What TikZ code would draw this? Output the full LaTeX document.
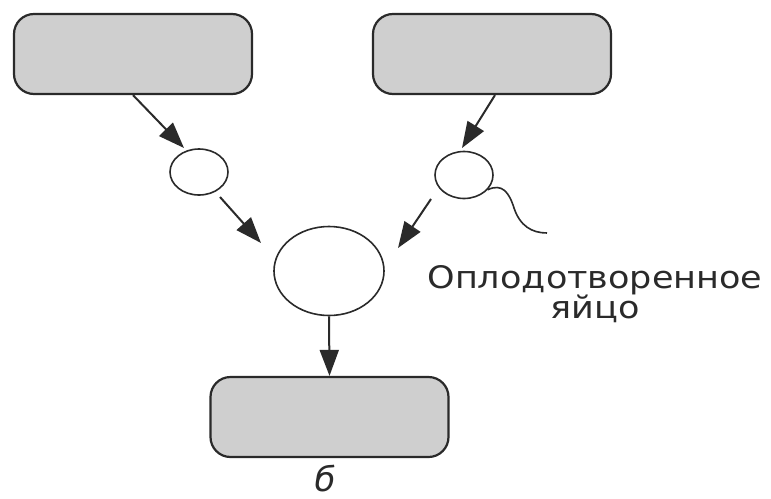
\documentclass[tikz,border=0pt]{standalone}
\usepackage{fontspec}
\newfontfamily\lblfont{DejaVu Sans}
\usetikzlibrary{shapes.geometric,arrows.meta}
\definecolor{boxfill}{HTML}{CFCFCF}
\definecolor{ink}{HTML}{2A2A2A}
\tikzset{
  gbox/.style={draw=ink, line width=2.2pt, fill=boxfill, rounded corners=20pt, minimum width=238pt, minimum height=80pt, inner sep=0pt},
  cell/.style={draw=ink, line width=1.6pt, ellipse, inner sep=0pt, fill=white},
  arr/.style={draw=ink, line width=2pt, -{Triangle[length=26pt,width=19pt]}},
  lbl/.style={text=ink, inner sep=0pt, font=\lblfont\fontsize{31}{36}\selectfont},
}
\begin{document}
\begin{tikzpicture}[x=1pt,y=-1pt]
\useasboundingbox (0,0) rectangle (771,498);
\node[gbox] (lbox) at (133,54) {};
\node[gbox] (rbox) at (492,54) {};
\node[gbox] (bbox) at (329.5,417) {};
\node[cell, minimum width=58pt, minimum height=46pt] (lsmall) at (199,172) {};
\node[cell, minimum width=58pt, minimum height=47pt] (rsmall) at (464,175) {};
\node[cell, minimum width=110pt, minimum height=89pt] (big) at (329,271) {};
\coordinate (t1) at (184,148);
\coordinate (s2) at (220,197);
\coordinate (t2) at (261,243);
\coordinate (t3) at (462,148);
\coordinate (s4) at (431,199);
\coordinate (t4) at (398,248);
\draw[arr] (lbox.south) -- (t1);
\draw[arr] (s2) -- (t2);
\draw[arr] ([xshift=3pt]rbox.south) -- (t3);
\draw[arr] (s4) -- (t4);
\draw[arr] (big.south) -- (bbox.north);
\draw[ink, line width=1.6pt] (rsmall.-32) .. controls (502,183) and (509,192) .. (514,208) .. controls (520,226) and (532,233) .. (547,233);
\node[lbl, anchor=base] (cap1) at (595,288) {\scalebox{1.13}[1]{Оплодотворенное}};
\node[lbl, anchor=base] (cap2) at (595,318) {\scalebox{1.13}[1]{яйцо}};
\node[text=ink, inner sep=0pt, anchor=base, font=\lblfont\itshape\fontsize{34}{40}\selectfont] (lab) at (325,491) {б};
\end{tikzpicture}
\end{document}
